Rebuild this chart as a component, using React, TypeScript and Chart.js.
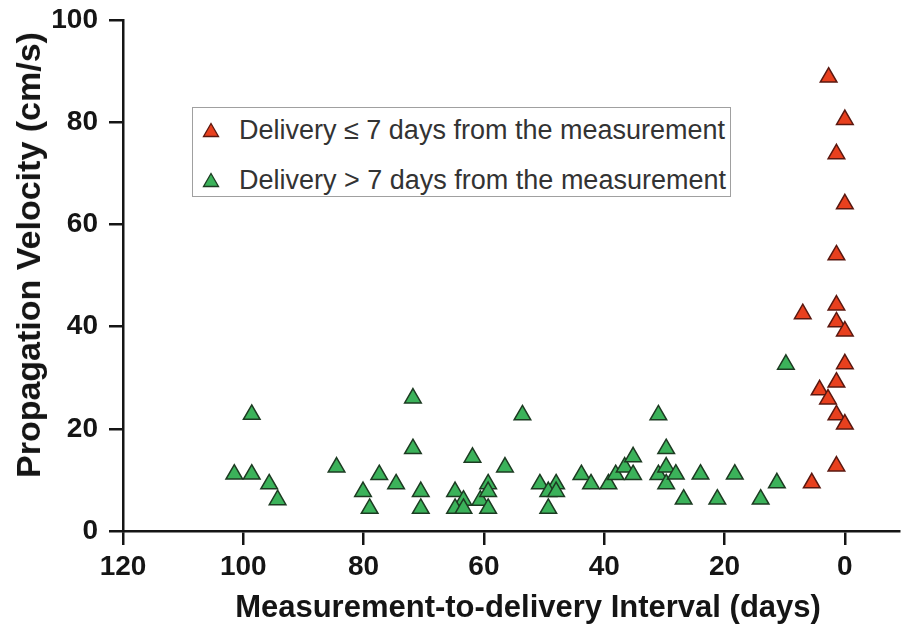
import React, { useEffect, useRef } from "react";
import { Chart, registerables } from "chart.js";

Chart.register(...registerables);

// ---- data ----
const xTicks = [0, 20, 40, 60, 80, 100, 120];
const yTicks = [0, 20, 40, 60, 80, 100];

const legendLabels = [
  "Delivery \u2264 7 days from the measurement",
  "Delivery > 7 days from the measurement",
];
const xTitle = "Measurement-to-delivery Interval (days)";
const yTitle = "Propagation Velocity (cm/s)";

// Delivery <= 7 days (red)
const nearX = [2.7, 0.0, 1.4, 0.0, 1.4, 1.4, 7.0, 1.4, 0.0, 0.0, 1.4, 4.2, 2.8, 1.4, 0.0, 1.4, 5.5];
const nearY = [88.8, 80.5, 73.8, 64.0, 54.0, 44.2, 42.5, 40.9, 39.1, 32.7, 29.1, 27.6, 25.8, 22.7, 20.9, 12.7, 9.4];

// Delivery > 7 days (green)
const farX = [
  101.5, 98.6, 98.6, 95.7, 94.3, 84.5, 80.1, 79.0, 77.4, 74.6,
  71.8, 71.8, 70.5, 70.5, 64.8, 63.4, 64.8, 63.4, 61.9, 60.6,
  59.3, 59.3, 59.3, 56.5, 53.6, 50.7, 48.0, 49.3, 48.0, 49.3,
  43.8, 42.2, 39.3, 38.1, 36.6, 35.2, 35.2, 31.0, 29.7, 31.0,
  29.7, 29.7, 28.1, 26.8, 24.0, 21.2, 18.3, 14.0, 11.3, 9.8,
];
const farY = [
  11.1, 22.8, 11.1, 9.2, 6.1, 12.5, 7.7, 4.4, 11.0, 9.2,
  26.0, 16.1, 7.7, 4.4, 7.7, 6.0, 4.4, 4.4, 14.4, 6.0,
  9.2, 7.7, 4.4, 12.5, 22.7, 9.2, 9.2, 7.7, 7.7, 4.4,
  11.0, 9.2, 9.2, 11.0, 12.5, 14.5, 11.0, 22.7, 16.1, 11.0,
  12.5, 9.2, 11.1, 6.2, 11.1, 6.2, 11.1, 6.2, 9.4, 32.6,
];

const RED = "#e8401e";
const RED_EDGE = "#5a1810";
const GREEN = "#3bb25a";
const GREEN_EDGE = "#1d3b22";
const INK = "#151515";
const FONT = "Arial, 'Liberation Sans', Helvetica, sans-serif";

function Tri({ fill, edge }: { fill: string; edge: string }) {
  return (
    <svg width="18" height="16" viewBox="0 0 18 16" style={{ display: "block" }}>
      <polygon points="9,1.5 16.5,14.5 1.5,14.5" fill={fill} stroke={edge} strokeWidth="1.3" />
    </svg>
  );
}

export default function App() {
  const ref = useRef<HTMLCanvasElement>(null);

  useEffect(() => {
    document.body.style.margin = "0";
    const canvas = ref.current;
    if (!canvas) return;
    const chart = new Chart(canvas, {
      type: "scatter",
      data: {
        datasets: [
          {
            label: legendLabels[0],
            data: nearX.map((x, i) => ({ x, y: nearY[i] })),
            pointStyle: "triangle",
            pointRadius: 9.6,
            backgroundColor: RED,
            borderColor: RED_EDGE,
            borderWidth: 1.5,
          },
          {
            label: legendLabels[1],
            data: farX.map((x, i) => ({ x, y: farY[i] })),
            pointStyle: "triangle",
            pointRadius: 9.6,
            backgroundColor: GREEN,
            borderColor: GREEN_EDGE,
            borderWidth: 1.5,
          },
        ],
      },
      options: {
        responsive: false,
        animation: false,
        events: [],
        layout: { autoPadding: false, padding: { top: 20, right: 2, bottom: 0, left: 0 } },
        plugins: { legend: { display: false }, tooltip: { enabled: false } },
        scales: {
          x: {
            type: "linear",
            reverse: true,
            min: -9.0,
            max: 120,
            afterBuildTicks: (s: any) => {
              s.ticks = xTicks.map((v) => ({ value: v }));
            },
            afterFit: (s: any) => {
              s.height = 101;
              s.paddingLeft = 0;
              s.paddingRight = 0;
            },
            grid: { drawOnChartArea: false, tickLength: 14, color: INK, lineWidth: 2.5 },
            border: { color: INK, width: 2.5 },
            ticks: {
              color: INK,
              padding: 5,
              maxRotation: 0,
              font: { family: FONT, size: 28, weight: "bold" },
            },
          },
          y: {
            type: "linear",
            min: 0,
            max: 100,
            afterBuildTicks: (s: any) => {
              s.ticks = yTicks.map((v) => ({ value: v }));
            },
            afterFit: (s: any) => {
              s.width = 123;
              s.paddingTop = 0;
              s.paddingBottom = 0;
            },
            grid: { drawOnChartArea: false, tickLength: 14, color: INK, lineWidth: 2.5 },
            border: { color: INK, width: 2.5 },
            ticks: {
              color: INK,
              padding: 11,
              font: { family: FONT, size: 28, weight: "bold" },
            },
          },
        },
      },
    });
    return () => chart.destroy();
  }, []);

  return (
    <div style={{ position: "relative", width: 901, height: 632, background: "#fff" }}>
      <canvas ref={ref} width={901} height={632} style={{ display: "block" }} />
      {/* y axis title */}
      <div
        style={{
          position: "absolute",
          left: 28,
          top: 255,
          transform: "translate(-50%, -50%) rotate(-90deg)",
          whiteSpace: "nowrap",
          fontFamily: FONT,
          fontWeight: "bold",
          fontSize: 34,
          lineHeight: "36px",
          color: INK,
        }}
      >
        {yTitle}
      </div>
      {/* x axis title */}
      <div
        style={{
          position: "absolute",
          left: 528,
          top: 607,
          transform: "translate(-50%, -50%)",
          whiteSpace: "nowrap",
          fontFamily: FONT,
          fontWeight: "bold",
          fontSize: 31,
          lineHeight: "34px",
          color: INK,
        }}
      >
        {xTitle}
      </div>
      {/* legend */}
      <div
        style={{
          position: "absolute",
          left: 192,
          top: 107,
          width: 539,
          height: 90,
          border: "1px solid #a0a0a0",
          background: "#fff",
          fontFamily: FONT,
          fontSize: 27,
          color: "#333",
          boxSizing: "border-box",
        }}
      >
        {[0, 1].map((i) => (
          <div
            key={i}
            style={{
              position: "absolute",
              left: 9,
              top: i === 0 ? 6 : 56,
              height: 32,
              display: "flex",
              alignItems: "center",
              whiteSpace: "nowrap",
            }}
          >
            {i === 0 ? <Tri fill={RED} edge={RED_EDGE} /> : <Tri fill={GREEN} edge={GREEN_EDGE} />}
            <span style={{ marginLeft: 19 }}>{legendLabels[i]}</span>
          </div>
        ))}
      </div>
    </div>
  );
}
